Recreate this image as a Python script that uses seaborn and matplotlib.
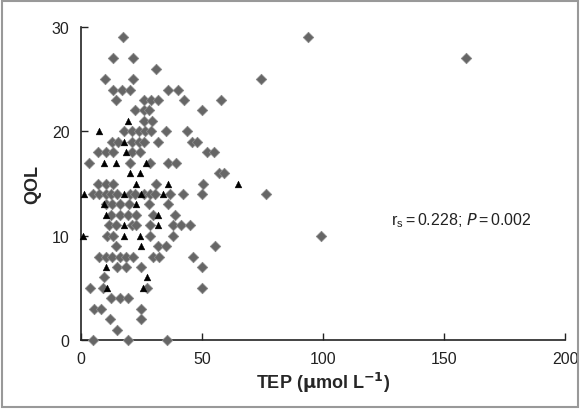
import pandas as pd
import numpy as np
import matplotlib
matplotlib.use("Agg")
import matplotlib.pyplot as plt
import seaborn as sns
from matplotlib.patches import Rectangle

sns.set_style("ticks")
plt.rcParams['font.family'] = ['Liberation Sans', 'DejaVu Sans']

# grey diamonds: (QOL, list of TEP values)
diamond_rows = {
    29: [17.5, 94],
    27: [13.5, 21.5, 159],
    26: [31],
    25: [10, 21.5, 74.5],
    24: [13.5, 17, 20.5, 36, 40],
    23: [14.5, 26, 29, 32, 42.5, 58],
    22: [22.5, 26, 28, 50],
    21: [26, 29.5],
    20: [18, 21, 24, 26.5, 29, 35, 44],
    19: [13, 15.5, 21, 24, 26, 32, 46, 48],
    18: [7, 10.5, 13.5, 21, 24.5, 52, 55],
    17: [3.5, 20.5, 28.5, 36, 39.5],
    16: [57, 59],
    15: [7, 10.5, 13.5, 31, 50.5],
    14: [5, 7.5, 10.5, 12.5, 15, 20.5, 22.5, 26, 28.5, 30.5, 37, 42, 50, 76.5],
    13: [10.5, 13, 16, 20, 28, 36],
    12: [12.5, 16, 19.5, 23, 30, 39],
    11: [11.5, 14.5, 21, 23, 28.5, 38, 41.5, 45],
    10: [11, 13.5, 28.5, 38, 99],
    9: [14.5, 32, 35, 55.5],
    8: [7.5, 10.5, 13, 16, 18.5, 21.5, 30, 32.5, 46.5],
    7: [15, 18.5, 25, 50],
    6: [9.5],
    5: [4, 9, 27.5, 50],
    4: [12.5, 16, 19.5],
    3: [5.5, 8.5, 25],
    2: [12, 25],
    1: [15],
    0: [5, 19.5, 35.5],
}

# black triangles
triangle_rows = {
    21: [19.5],
    20: [7.5],
    19: [18],
    18: [18.5],
    17: [9.5, 14.5, 27],
    16: [20.5, 24.5],
    15: [23, 36, 65],
    14: [1.5, 18, 25, 34],
    13: [9.5, 23],
    12: [10.5, 32],
    11: [18, 32],
    10: [1, 18, 24.5],
    9: [25],
    7: [10.5],
    6: [27.5],
    5: [11, 25.5],
}

records = []
for q, xs in diamond_rows.items():
    for x in xs:
        records.append({"TEP": x, "QOL": q, "group": "d"})
for q, xs in triangle_rows.items():
    for x in xs:
        records.append({"TEP": x, "QOL": q, "group": "t"})
df = pd.DataFrame(records)

fig = plt.figure(figsize=(5.81, 4.10), dpi=100)
ax = fig.add_axes([0.139, 0.168, 0.834, 0.764])

sns.scatterplot(data=df[df.group == "d"], x="TEP", y="QOL", marker="D",
                s=28, color="#666666", edgecolor="#888888", linewidth=0.6,
                ax=ax, clip_on=False, zorder=3)
sns.scatterplot(data=df[df.group == "t"], x="TEP", y="QOL", marker="^",
                s=24, color="black", edgecolor="black", linewidth=0.3,
                ax=ax, clip_on=False, zorder=4)

ax.set_xlim(0, 200)
ax.set_ylim(0, 30)
ax.set_xticks([0, 50, 100, 150, 200])
ax.set_yticks([0, 10, 20, 30])
ax.tick_params(direction="in", length=5, width=1, labelsize=11.5, pad=8,
               colors="#222222")
sns.despine(ax=ax)
for sp in ["left", "bottom"]:
    ax.spines[sp].set_linewidth(1.2)
    ax.spines[sp].set_color("#222222")

ax.set_xlabel(r"TEP ($\mathbf{\mu}$mol L$^{\mathbf{-1}}$)", fontsize=13,
              fontweight="bold", labelpad=3)
ax.set_ylabel("QOL", fontsize=13, fontweight="bold", labelpad=8)

ax.text(128, 11.1, r"r$_\mathregular{s}$$\,$=$\,$0.228; $\it{P}$$\,$=$\,$0.002",
        fontsize=11.5, color="#222222")

fig.patches.append(Rectangle((0.003, 0.005), 0.992, 0.99, transform=fig.transFigure,
                             fill=False, edgecolor="#999999", linewidth=1.5))

fig.savefig("out.png", dpi=100)
